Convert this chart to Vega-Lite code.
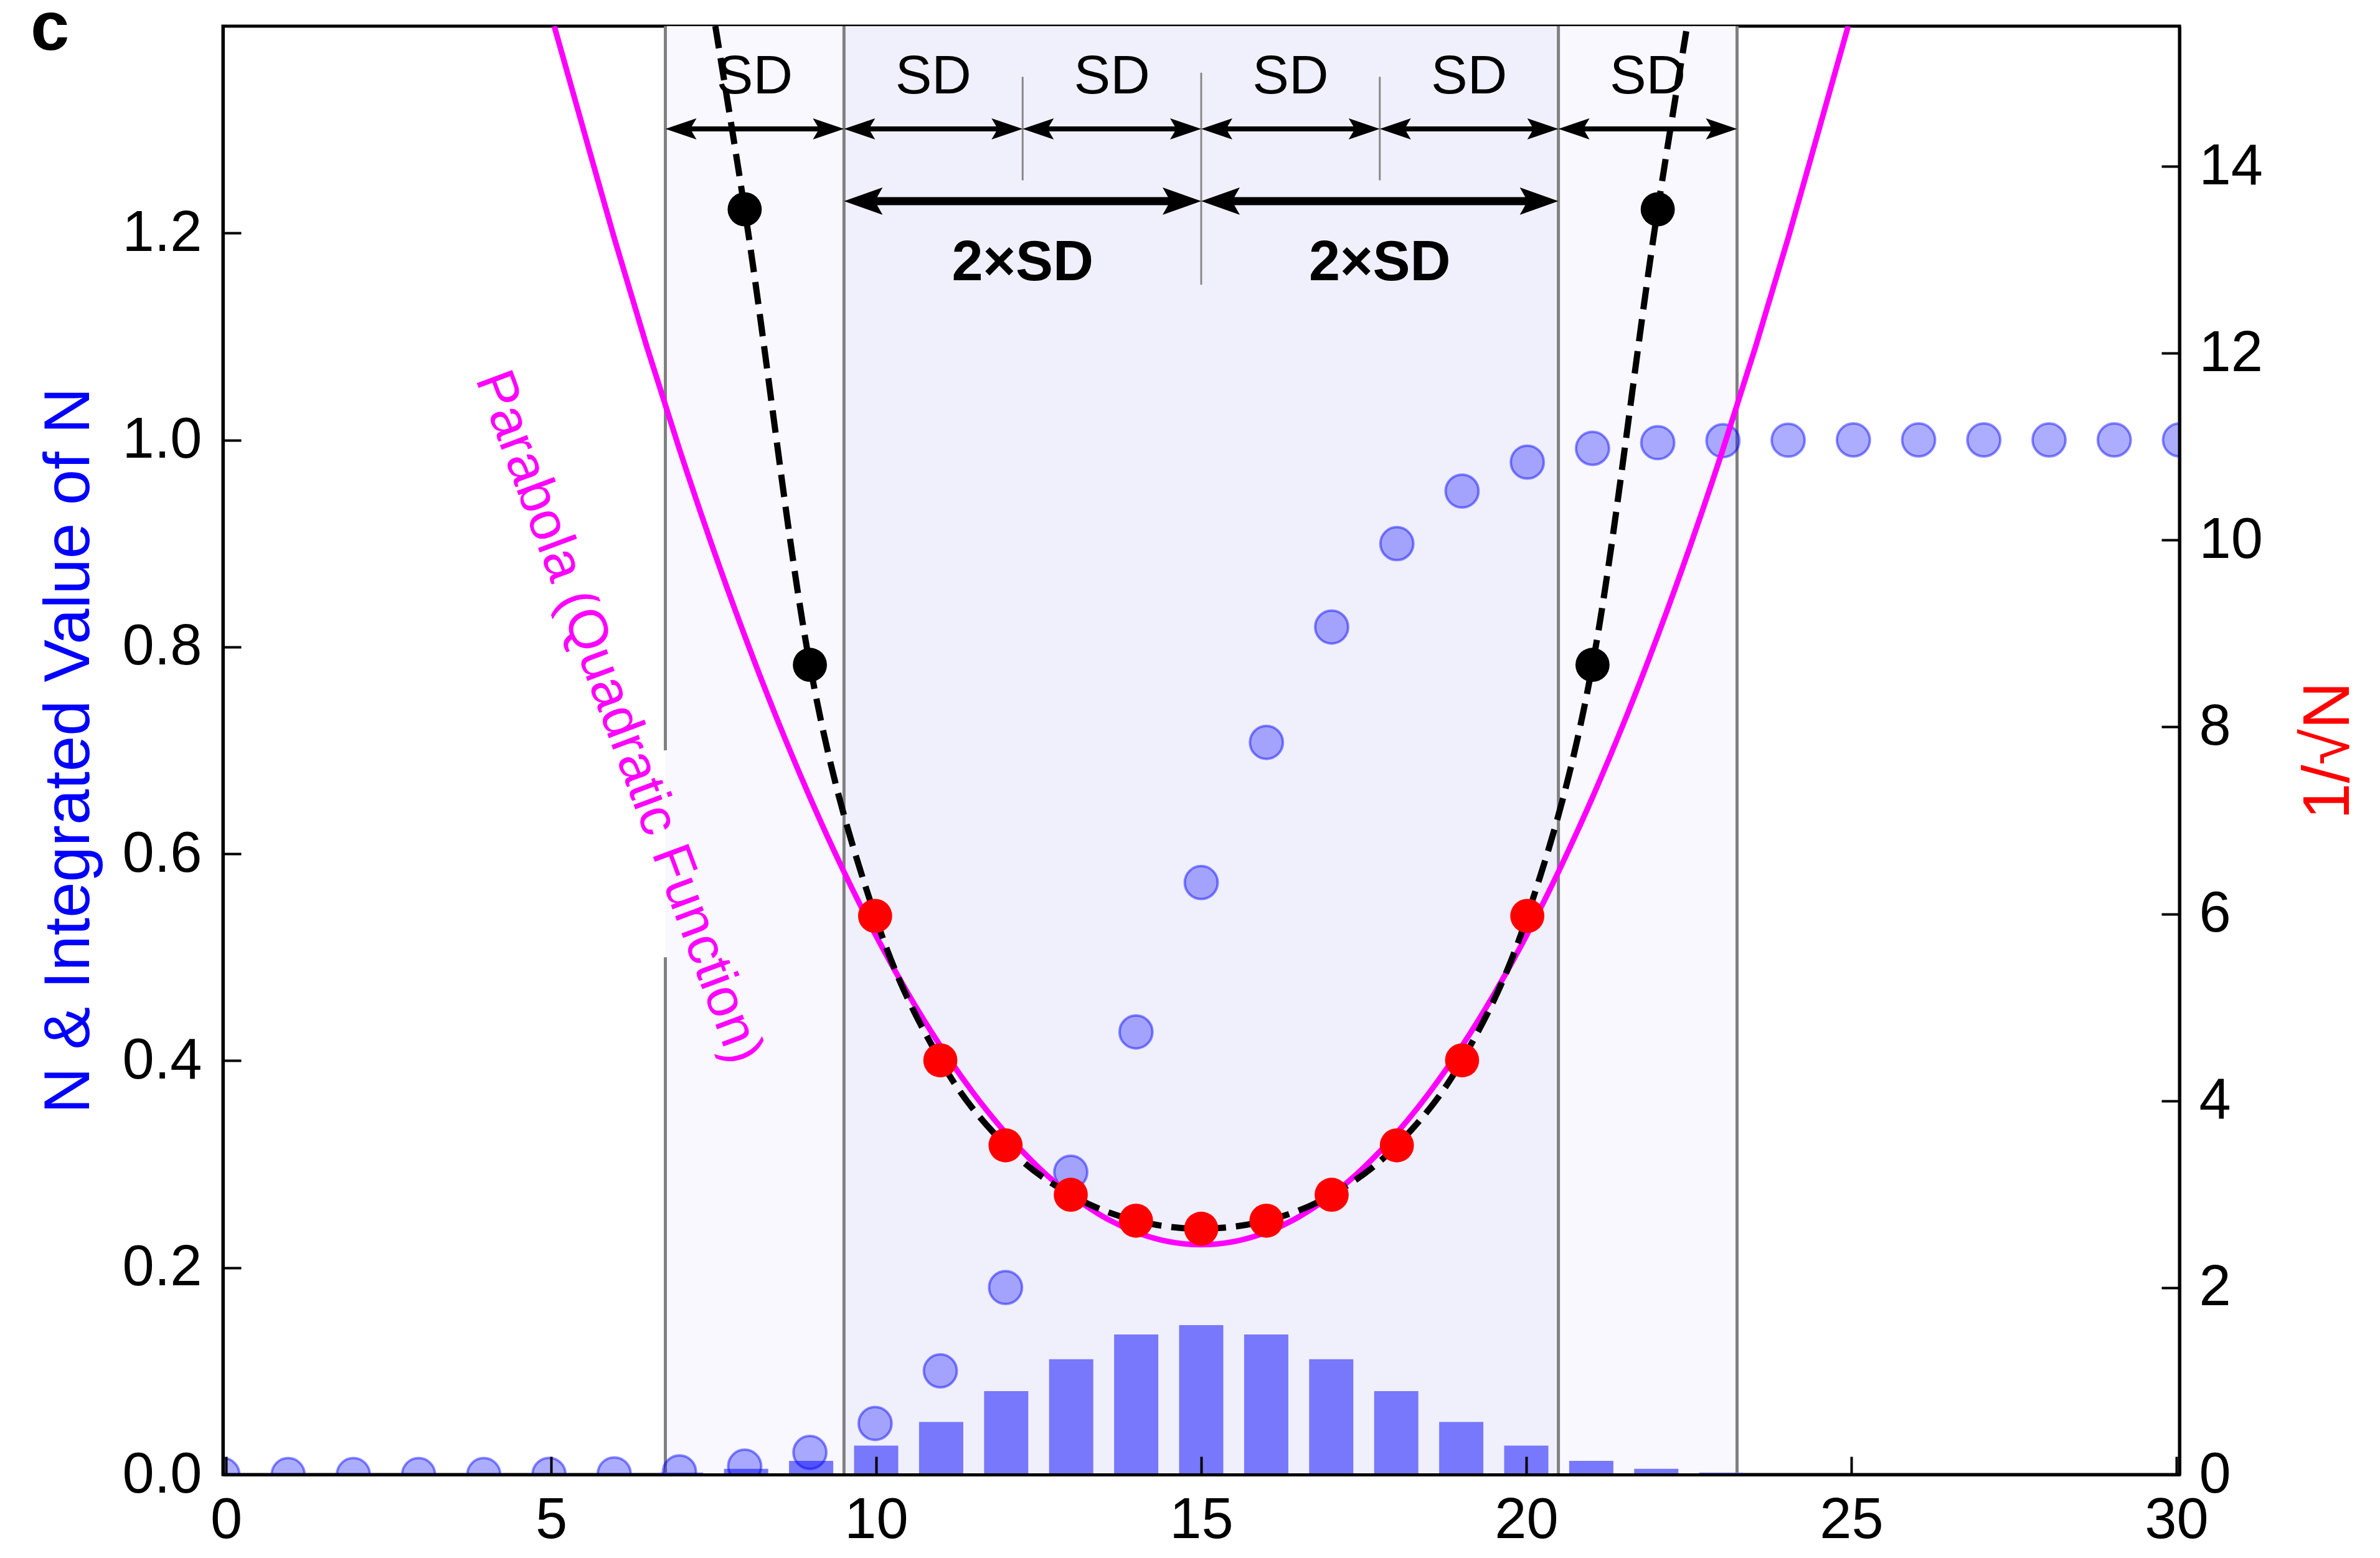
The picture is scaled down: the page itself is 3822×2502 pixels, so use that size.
{
  "$schema": "https://vega.github.io/schema/vega-lite/v6.json",
  "autosize": {"type": "none"},
  "padding": {"left": 358, "top": 42, "right": 322, "bottom": 134},
  "width": 3142,
  "height": 2326,
  "config": {
    "font": "Liberation Sans",
    "view": {"stroke": "black", "strokeWidth": 5},
    "axis": {"grid": false, "domainColor": "black", "domainWidth": 5, "tickColor": "black", "tickWidth": 4, "labelFont": "Liberation Sans", "labelFontSize": 92, "labelColor": "black", "titleFont": "Liberation Sans", "titleFontWeight": "normal"}
  },
  "datasets": {
    "dist": [
      {"k": 0, "N": 0, "cum": 0}, {"k": 1, "N": 0, "cum": 0}, {"k": 2, "N": 0, "cum": 0}, {"k": 3, "N": 0, "cum": 0}, {"k": 4, "N": 0, "cum": 0},
      {"k": 5, "N": 0.00013, "cum": 0.0002}, {"k": 6, "N": 0.00055, "cum": 0.0007}, {"k": 7, "N": 0.0019, "cum": 0.0026},
      {"k": 8, "N": 0.0055, "cum": 0.0081}, {"k": 9, "N": 0.0133, "cum": 0.0214}, {"k": 10, "N": 0.028, "cum": 0.0494},
      {"k": 11, "N": 0.0509, "cum": 0.1002}, {"k": 12, "N": 0.0806, "cum": 0.1808}, {"k": 13, "N": 0.1115, "cum": 0.2923},
      {"k": 14, "N": 0.1354, "cum": 0.4278}, {"k": 15, "N": 0.1445, "cum": 0.5722}, {"k": 16, "N": 0.1354, "cum": 0.7077},
      {"k": 17, "N": 0.1115, "cum": 0.8192}, {"k": 18, "N": 0.0806, "cum": 0.8998}, {"k": 19, "N": 0.0509, "cum": 0.9506},
      {"k": 20, "N": 0.028, "cum": 0.9786}, {"k": 21, "N": 0.0133, "cum": 0.9919}, {"k": 22, "N": 0.0055, "cum": 0.9974},
      {"k": 23, "N": 0.0019, "cum": 0.9993}, {"k": 24, "N": 0.00055, "cum": 0.9998}, {"k": 25, "N": 0.00013, "cum": 1.0},
      {"k": 26, "N": 0, "cum": 1.0}, {"k": 27, "N": 0, "cum": 1.0}, {"k": 28, "N": 0, "cum": 1.0}, {"k": 29, "N": 0, "cum": 1.0}, {"k": 30, "N": 0, "cum": 1.0}
    ],
    "red": [
      {"k": 10, "v": 5.978}, {"k": 11, "v": 4.433}, {"k": 12, "v": 3.523}, {"k": 13, "v": 2.994}, {"k": 14, "v": 2.717},
      {"k": 15, "v": 2.631}, {"k": 16, "v": 2.717}, {"k": 17, "v": 2.994}, {"k": 18, "v": 3.523}, {"k": 19, "v": 4.433}, {"k": 20, "v": 5.978}
    ],
    "black": [{"k": 8, "v": 13.54}, {"k": 9, "v": 8.665}, {"k": 21, "v": 8.665}, {"k": 22, "v": 13.54}],
    "dash": [
      {"x": 7.55, "v": 15.5}, {"x": 8, "v": 13.54}, {"x": 9, "v": 8.665}, {"x": 10, "v": 5.978}, {"x": 11, "v": 4.433},
      {"x": 12, "v": 3.523}, {"x": 13, "v": 2.994}, {"x": 14, "v": 2.717}, {"x": 15, "v": 2.631}, {"x": 16, "v": 2.717},
      {"x": 17, "v": 2.994}, {"x": 18, "v": 3.523}, {"x": 19, "v": 4.433}, {"x": 20, "v": 5.978}, {"x": 21, "v": 8.665},
      {"x": 22, "v": 13.54}, {"x": 22.45, "v": 15.5}
    ],
    "parab": [
      {"x": 5.08, "v": 15.5}, {"x": 5.5, "v": 14.463}, {"x": 6, "v": 13.233}, {"x": 6.5, "v": 12.069}, {"x": 7, "v": 10.972},
      {"x": 7.5, "v": 9.941}, {"x": 8, "v": 8.977}, {"x": 8.5, "v": 8.079}, {"x": 9, "v": 7.248}, {"x": 9.5, "v": 6.483},
      {"x": 10, "v": 5.785}, {"x": 10.5, "v": 5.153}, {"x": 11, "v": 4.588}, {"x": 11.5, "v": 4.089}, {"x": 12, "v": 3.657},
      {"x": 12.5, "v": 3.291}, {"x": 13, "v": 2.992}, {"x": 13.5, "v": 2.759}, {"x": 14, "v": 2.593}, {"x": 14.5, "v": 2.493},
      {"x": 15, "v": 2.46},
      {"x": 15.5, "v": 2.493}, {"x": 16, "v": 2.593}, {"x": 16.5, "v": 2.759}, {"x": 17, "v": 2.992}, {"x": 17.5, "v": 3.291},
      {"x": 18, "v": 3.657}, {"x": 18.5, "v": 4.089}, {"x": 19, "v": 4.588}, {"x": 19.5, "v": 5.153}, {"x": 20, "v": 5.785},
      {"x": 20.5, "v": 6.483}, {"x": 21, "v": 7.248}, {"x": 21.5, "v": 8.079}, {"x": 22, "v": 8.977}, {"x": 22.5, "v": 9.941},
      {"x": 23, "v": 10.972}, {"x": 23.5, "v": 12.069}, {"x": 24, "v": 13.233}, {"x": 24.5, "v": 14.463}, {"x": 24.92, "v": 15.5}
    ],
    "bands": [
      {"x1": 6.784, "x2": 9.523, "band": "3SD"}, {"x1": 9.523, "x2": 20.477, "band": "2SD"}, {"x1": 20.477, "x2": 23.216, "band": "3SD"}
    ],
    "vlines": [
      {"x": 6.784, "y1": 0, "y2": 0.5, "kind": "full"}, {"x": 6.784, "y1": 0.7, "y2": 1.4, "kind": "full"},
      {"x": 9.523, "y1": 0, "y2": 1.4, "kind": "full"}, {"x": 20.477, "y1": 0, "y2": 1.4, "kind": "full"},
      {"x": 23.216, "y1": 0, "y2": 1.4, "kind": "full"},
      {"x": 12.262, "y1": 1.251, "y2": 1.351, "kind": "short"}, {"x": 15, "y1": 1.15, "y2": 1.355, "kind": "short"},
      {"x": 17.738, "y1": 1.251, "y2": 1.351, "kind": "short"}
    ],
    "arrows": [
      {"x1": 6.784, "x2": 9.523, "y": 1.3007, "kind": "SD"}, {"x1": 9.523, "x2": 12.262, "y": 1.3007, "kind": "SD"},
      {"x1": 12.262, "x2": 15, "y": 1.3007, "kind": "SD"}, {"x1": 15, "x2": 17.738, "y": 1.3007, "kind": "SD"},
      {"x1": 17.738, "x2": 20.477, "y": 1.3007, "kind": "SD"}, {"x1": 20.477, "x2": 23.216, "y": 1.3007, "kind": "SD"},
      {"x1": 9.523, "x2": 15, "y": 1.2309, "kind": "2SD"}, {"x1": 15, "x2": 20.477, "y": 1.2309, "kind": "2SD"}
    ],
    "labels": [
      {"x": 8.154, "y": 1.3505, "text": "SD", "kind": "SD"}, {"x": 10.892, "y": 1.3505, "text": "SD", "kind": "SD"},
      {"x": 13.631, "y": 1.3505, "text": "SD", "kind": "SD"}, {"x": 16.369, "y": 1.3505, "text": "SD", "kind": "SD"},
      {"x": 19.108, "y": 1.3505, "text": "SD", "kind": "SD"}, {"x": 21.846, "y": 1.3505, "text": "SD", "kind": "SD"},
      {"x": 12.262, "y": 1.1704, "text": "2×SD", "kind": "2SD"}, {"x": 17.738, "y": 1.1704, "text": "2×SD", "kind": "2SD"},
      {"x": 6.063, "y": 0.732, "text": "Parabola (Quadratic Function)", "kind": "parab"},
      {"x": -2.95, "y": 1.377, "text": "c", "kind": "panel"}
    ]
  },
  "layer": [
    {
      "data": {"name": "bands"},
      "mark": {"type": "rect"},
      "encoding": {
        "x": {"field": "x1", "type": "quantitative", "scale": {"domain": [0, 30], "nice": false, "zero": false}, "axis": null},
        "x2": {"field": "x2"},
        "color": {"field": "band", "type": "nominal", "scale": {"domain": ["3SD", "2SD"], "range": ["#f8f8fe", "#f0f0fc"]}, "legend": null}
      }
    },
    {
      "data": {"name": "vlines"},
      "transform": [{"filter": "datum.kind === 'full'"}],
      "mark": {"type": "rule", "color": "#808080", "strokeWidth": 5},
      "encoding": {
        "x": {"field": "x", "type": "quantitative", "scale": {"domain": [0, 30], "nice": false, "zero": false}, "axis": null},
        "y": {"field": "y1", "type": "quantitative", "scale": {"domain": [0, 1.4], "nice": false, "zero": false}, "axis": null},
        "y2": {"field": "y2"}
      }
    },
    {
      "data": {"name": "vlines"},
      "transform": [{"filter": "datum.kind === 'short'"}],
      "mark": {"type": "rule", "color": "#888888", "strokeWidth": 3},
      "encoding": {
        "x": {"field": "x", "type": "quantitative", "scale": {"domain": [0, 30], "nice": false, "zero": false}, "axis": null},
        "y": {"field": "y1", "type": "quantitative", "scale": {"domain": [0, 1.4], "nice": false, "zero": false}, "axis": null},
        "y2": {"field": "y2"}
      }
    },
    {
      "data": {"name": "dist"},
      "mark": {"type": "bar", "color": "#7878fc", "width": 71, "orient": "vertical"},
      "encoding": {
        "x": {"field": "k", "type": "quantitative", "scale": {"domain": [0, 30], "nice": false, "zero": false},
              "axis": {"title": null, "values": [0, 5, 10, 15, 20, 25, 30], "format": "d", "tickSize": -29, "labelPadding": 57, "labelFlush": false, "zindex": 1}},
        "y": {"field": "N", "type": "quantitative", "scale": {"domain": [0, 1.4], "nice": false, "zero": false},
              "axis": {"title": "N & Integrated Value of N", "titleColor": "#0000ff", "titleFontSize": 103, "titlePadding": 32,
                       "values": [0, 0.2, 0.4, 0.6, 0.8, 1.0, 1.2], "format": ".1f", "tickSize": -29, "labelPadding": 63, "zindex": 1}}
      }
    },
    {
      "data": {"name": "dist"},
      "mark": {"type": "circle", "color": "#0000ff", "fillOpacity": 0.32, "stroke": "#0000ff", "strokeOpacity": 0.45, "strokeWidth": 4, "size": 2800, "clip": true},
      "encoding": {
        "x": {"field": "k", "type": "quantitative", "scale": {"domain": [0, 30], "nice": false, "zero": false}, "axis": null},
        "y": {"field": "cum", "type": "quantitative", "scale": {"domain": [0, 1.4], "nice": false, "zero": false}, "axis": null}
      }
    },
    {
      "data": {"name": "labels"},
      "transform": [{"filter": "datum.kind === 'parab'"}],
      "mark": {"type": "text", "color": "#ff00ff", "fontSize": 88, "angle": 69.6, "align": "center", "baseline": "middle"},
      "encoding": {
        "x": {"field": "x", "type": "quantitative", "scale": {"domain": [0, 30], "nice": false, "zero": false}, "axis": null},
        "y": {"field": "y", "type": "quantitative", "scale": {"domain": [0, 1.4], "nice": false, "zero": false}, "axis": null},
        "text": {"field": "text"}
      }
    },
    {
      "data": {"name": "labels"},
      "transform": [{"filter": "datum.kind === 'panel'"}],
      "mark": {"type": "text", "color": "black", "fontSize": 112, "fontWeight": "bold", "align": "left", "baseline": "alphabetic"},
      "encoding": {
        "x": {"field": "x", "type": "quantitative", "scale": {"domain": [0, 30], "nice": false, "zero": false}, "axis": null},
        "y": {"field": "y", "type": "quantitative", "scale": {"domain": [0, 1.4], "nice": false, "zero": false}, "axis": null},
        "text": {"field": "text"}
      }
    },
    {
      "data": {"name": "labels"},
      "transform": [{"filter": "datum.kind === 'SD'"}],
      "mark": {"type": "text", "color": "black", "fontSize": 88, "align": "center", "baseline": "middle"},
      "encoding": {
        "x": {"field": "x", "type": "quantitative", "scale": {"domain": [0, 30], "nice": false, "zero": false}, "axis": null},
        "y": {"field": "y", "type": "quantitative", "scale": {"domain": [0, 1.4], "nice": false, "zero": false}, "axis": null},
        "text": {"field": "text"}
      }
    },
    {
      "data": {"name": "labels"},
      "transform": [{"filter": "datum.kind === '2SD'"}],
      "mark": {"type": "text", "color": "black", "fontSize": 90, "fontWeight": "bold", "align": "center", "baseline": "middle"},
      "encoding": {
        "x": {"field": "x", "type": "quantitative", "scale": {"domain": [0, 30], "nice": false, "zero": false}, "axis": null},
        "y": {"field": "y", "type": "quantitative", "scale": {"domain": [0, 1.4], "nice": false, "zero": false}, "axis": null},
        "text": {"field": "text"}
      }
    },
    {
      "data": {"name": "arrows"},
      "transform": [{"filter": "datum.kind === 'SD'"}],
      "mark": {"type": "rule", "color": "black", "strokeWidth": 8, "xOffset": 25, "x2Offset": -25},
      "encoding": {
        "x": {"field": "x1", "type": "quantitative", "scale": {"domain": [0, 30], "nice": false, "zero": false}, "axis": null},
        "x2": {"field": "x2"},
        "y": {"field": "y", "type": "quantitative", "scale": {"domain": [0, 1.4], "nice": false, "zero": false}, "axis": null}
      }
    },
    {
      "data": {"name": "arrows"},
      "transform": [{"filter": "datum.kind === 'SD'"}],
      "mark": {"type": "point", "filled": true, "color": "black", "opacity": 1, "size": 2500, "shape": "M-1,0L1,-0.68L0.6,0L1,0.68Z", "xOffset": 25},
      "encoding": {
        "x": {"field": "x1", "type": "quantitative", "scale": {"domain": [0, 30], "nice": false, "zero": false}, "axis": null},
        "y": {"field": "y", "type": "quantitative", "scale": {"domain": [0, 1.4], "nice": false, "zero": false}, "axis": null}
      }
    },
    {
      "data": {"name": "arrows"},
      "transform": [{"filter": "datum.kind === 'SD'"}],
      "mark": {"type": "point", "filled": true, "color": "black", "opacity": 1, "size": 2500, "shape": "M1,0L-1,-0.68L-0.6,0L-1,0.68Z", "xOffset": -25},
      "encoding": {
        "x": {"field": "x2", "type": "quantitative", "scale": {"domain": [0, 30], "nice": false, "zero": false}, "axis": null},
        "y": {"field": "y", "type": "quantitative", "scale": {"domain": [0, 1.4], "nice": false, "zero": false}, "axis": null}
      }
    },
    {
      "data": {"name": "arrows"},
      "transform": [{"filter": "datum.kind === '2SD'"}],
      "mark": {"type": "rule", "color": "black", "strokeWidth": 13, "xOffset": 31, "x2Offset": -31},
      "encoding": {
        "x": {"field": "x1", "type": "quantitative", "scale": {"domain": [0, 30], "nice": false, "zero": false}, "axis": null},
        "x2": {"field": "x2"},
        "y": {"field": "y", "type": "quantitative", "scale": {"domain": [0, 1.4], "nice": false, "zero": false}, "axis": null}
      }
    },
    {
      "data": {"name": "arrows"},
      "transform": [{"filter": "datum.kind === '2SD'"}],
      "mark": {"type": "point", "filled": true, "color": "black", "opacity": 1, "size": 3844, "shape": "M-1,0L1,-0.71L0.6,0L1,0.71Z", "xOffset": 31},
      "encoding": {
        "x": {"field": "x1", "type": "quantitative", "scale": {"domain": [0, 30], "nice": false, "zero": false}, "axis": null},
        "y": {"field": "y", "type": "quantitative", "scale": {"domain": [0, 1.4], "nice": false, "zero": false}, "axis": null}
      }
    },
    {
      "data": {"name": "arrows"},
      "transform": [{"filter": "datum.kind === '2SD'"}],
      "mark": {"type": "point", "filled": true, "color": "black", "opacity": 1, "size": 3844, "shape": "M1,0L-1,-0.71L-0.6,0L-1,0.71Z", "xOffset": -31},
      "encoding": {
        "x": {"field": "x2", "type": "quantitative", "scale": {"domain": [0, 30], "nice": false, "zero": false}, "axis": null},
        "y": {"field": "y", "type": "quantitative", "scale": {"domain": [0, 1.4], "nice": false, "zero": false}, "axis": null}
      }
    },
    {
      "data": {"name": "parab"},
      "mark": {"type": "line", "color": "#ff00ff", "strokeWidth": 9, "interpolate": "monotone", "clip": true},
      "encoding": {
        "x": {"field": "x", "type": "quantitative", "scale": {"domain": [0, 30], "nice": false, "zero": false}, "axis": null},
        "y": {"field": "v", "type": "quantitative", "scale": {"domain": [0, 15.5], "nice": false, "zero": false},
              "axis": {"orient": "right", "title": "1/√N", "titleColor": "#ff0000", "titleFontSize": 105, "titleAngle": 270, "titleBaseline": "top", "titlePadding": 55,
                       "values": [0, 2, 4, 6, 8, 10, 12, 14], "format": "d", "tickSize": -29, "labelPadding": 60, "zindex": 1}}
      }
    },
    {
      "data": {"name": "dash"},
      "mark": {"type": "line", "color": "black", "strokeWidth": 10, "strokeDash": [36, 16], "interpolate": "monotone", "clip": true},
      "encoding": {
        "x": {"field": "x", "type": "quantitative", "scale": {"domain": [0, 30], "nice": false, "zero": false}, "axis": null},
        "y": {"field": "v", "type": "quantitative", "scale": {"domain": [0, 15.5], "nice": false, "zero": false}, "axis": null}
      }
    },
    {
      "data": {"name": "red"},
      "mark": {"type": "circle", "color": "#ff0000", "opacity": 1, "size": 3000},
      "encoding": {
        "x": {"field": "k", "type": "quantitative", "scale": {"domain": [0, 30], "nice": false, "zero": false}, "axis": null},
        "y": {"field": "v", "type": "quantitative", "scale": {"domain": [0, 15.5], "nice": false, "zero": false}, "axis": null}
      }
    },
    {
      "data": {"name": "black"},
      "mark": {"type": "circle", "color": "black", "opacity": 1, "size": 3000},
      "encoding": {
        "x": {"field": "k", "type": "quantitative", "scale": {"domain": [0, 30], "nice": false, "zero": false}, "axis": null},
        "y": {"field": "v", "type": "quantitative", "scale": {"domain": [0, 15.5], "nice": false, "zero": false}, "axis": null}
      }
    }
  ],
  "resolve": {"scale": {"x": "independent", "y": "independent"}}
}
